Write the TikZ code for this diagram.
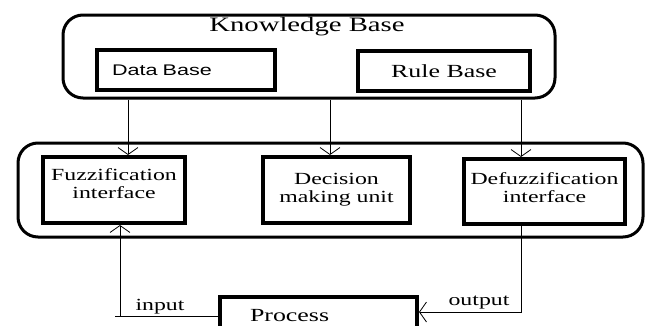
\documentclass[tikz,border=0pt]{standalone}
\usepackage{fontspec}
\setmainfont[FakeStretch=1.4]{Liberation Serif}
\newfontfamily\sansw[FakeStretch=1.4]{Liberation Sans}
\usetikzlibrary{arrows.meta}
\newcommand{\fsz}[2]{\fontsize{#1}{#2}\selectfont}
\tikzset{
    outerbox/.style={draw, line width=3pt, rounded corners=20pt},
    unitbox/.style={draw, line width=4pt, align=center, inner sep=0pt, font=\fsz{17}{18}},
    flow/.style={line width=0.8pt, -{Straight Barb[length=7pt,width=20pt]}},
    flowlabel/.style={inner sep=0pt, font=\fsz{17}{18}}
}

\begin{document}
\begin{tikzpicture}[x=1pt, y=-1pt]
        \useasboundingbox (0,0) rectangle (654,325);
        \clip (0,0) rectangle (654,325);

        % knowledge base
        \node[outerbox, minimum width=492pt, minimum height=83pt] (kb) at (309,56.5) {};
        \node[font=\fsz{20.5}{22}] (kbtitle) at (307,27) {Knowledge Base};
        \node[unitbox, minimum width=178pt, minimum height=40pt, text width=148pt, align=left,
              font=\sansw\fsz{15.4}{16}] (db) at (186,70) {Data Base};
        \node[unitbox, minimum width=172pt, minimum height=40pt, font=\fsz{18.5}{20}] (rb) at (444,71) {Rule Base};

        % inference part
        \node[outerbox, minimum width=625pt, minimum height=94pt] (mid) at (330.5,190) {};
        \node[unitbox, minimum width=142pt, minimum height=66pt, text depth=12pt] (fuzz) at (114,190) {Fuzzification\\interface};
        \node[unitbox, minimum width=147pt, minimum height=66pt] (dmu) at (336.5,190) {Decision\\making unit};
        \node[unitbox, minimum width=161pt, minimum height=65pt, text depth=8pt] (defuzz) at (544.5,191.5) {Defuzzification\\interface};

        % process
        \node[unitbox, minimum width=197pt, minimum height=38pt, text width=137pt, align=left,
              font=\fsz{18.5}{20}] (proc) at (318.5,316) {Process};

        \coordinate (inbend) at (120,316);
        \coordinate (outbend) at (521,312);

        \draw[flow] (kb.south -| 128,0) -- (fuzz.north -| 128,0);
        \draw[flow] (kb.south -| 330,0) -- (dmu.north -| 330,0);
        \draw[flow] (kb.south -| 521,0) -- (defuzz.north -| 521,0);

        \draw[flow] (proc.west |- inbend) -- (inbend) -- (fuzz.south -| inbend);
        \draw[line width=0.8pt] (inbend) -- ++(-5,0);
        \draw[flow] (defuzz.south -| outbend) -- (outbend) -- (proc.east |- outbend);

        \node[flowlabel] (inlabel) at (160,307) {input};
        \node[flowlabel] (outlabel) at (479,303) {output};
    \end{tikzpicture}
\end{document}
